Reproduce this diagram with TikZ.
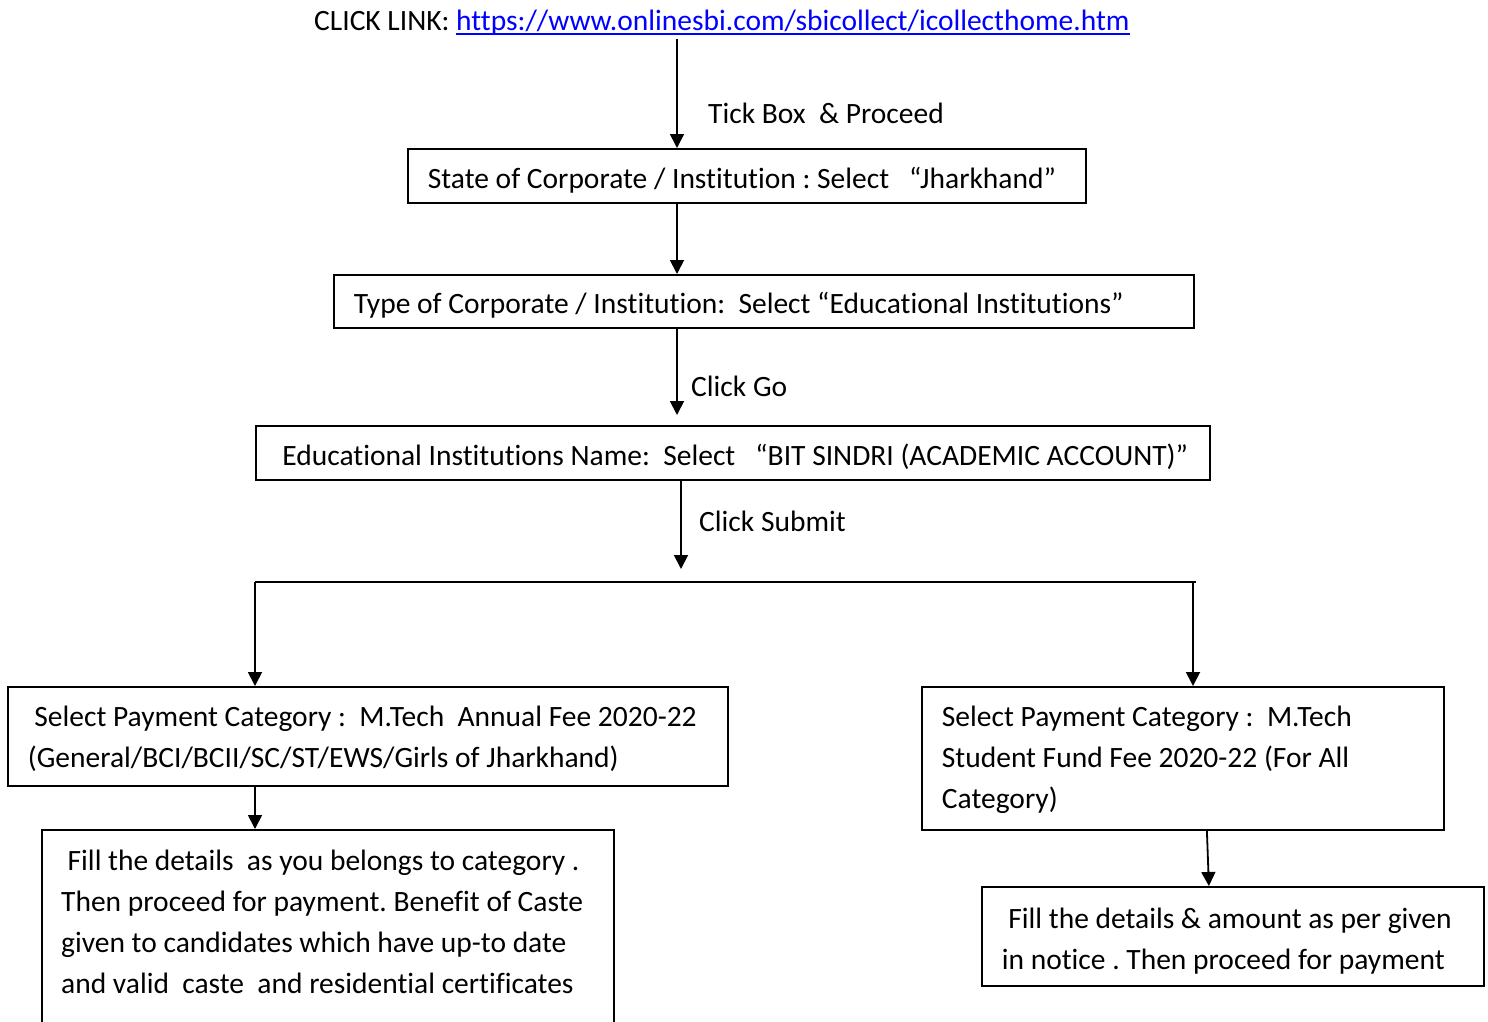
\documentclass[tikz,border=0pt]{standalone}
\usepackage{fontspec}
\setmainfont{Carlito}[Ligatures={NoCommon,TeX}]
\usetikzlibrary{arrows.meta,calc}
\definecolor{linkblue}{RGB}{0,0,255}
\newcommand\natsp[1]{\spaceskip=\fontdimen2\font\xspaceskip=\fontdimen2\font\relax\rule{0pt}{#1}}
\begin{document}
\begin{tikzpicture}[x=1pt,y=-1pt,
  every node/.style={font=\fontsize{29.5}{41}\selectfont},
  box/.style={draw, line width=1.8pt, anchor=north west, inner xsep=20pt, inner ysep=0pt, align=left},
  arr/.style={line width=1.8pt, -{Triangle[width=14pt,length=14pt]}},
  ln/.style={line width=1.8pt},
  lbl/.style={anchor=west, inner sep=0pt}]
\useasboundingbox[fill=white] (0,0) rectangle (1488,1021);

% title
\node[anchor=base west, inner sep=0pt] (cl) at (314,30) {CLICK LINK:};
\node[anchor=base west, inner sep=0pt, text=linkblue] (link) at (456,30) {https://www.onlinesbi.com/sbicollect/icollecthome.htm};
\draw[linkblue, line width=1.5pt] ($(link.base west)+(0,4)$) -- ($(link.base east)+(0,4)$);

% boxes
\node[box, text width=638pt, minimum height=54pt] (b1) at (407,148) {\natsp{29pt}State of Corporate / Institution : Select\ \ \ “Jharkhand”};
\node[box, text width=820pt, minimum height=53pt] (b2) at (333,274) {\natsp{29pt}Type of Corporate / Institution:\ \ Select “Educational Institutions”};
\node[box, text width=914pt, minimum height=54pt] (b3) at (255,425) {\natsp{29pt}\hspace{6.5pt}Educational Institutions Name:\ \ Select\ \ \ “BIT SINDRI (ACADEMIC ACCOUNT)”};
\node[box, text width=680pt, minimum height=99pt] (b4) at (7,686) {\natsp{26pt}\hspace{6.5pt}Select Payment Category :\ \ M.Tech\ \ Annual Fee 2020-22\\(General/BCI/BCII/SC/ST/EWS/Girls of Jharkhand)};
\node[draw, line width=1.8pt, anchor=north west, minimum width=572pt, minimum height=210pt, inner sep=0pt] (b5) at (41,829) {};
\node[anchor=north west, align=left, text width=540pt, inner sep=0pt] (t5) at (61,850) {\natsp{0pt}\hspace{6.5pt}Fill the details\ \ as you belongs to category .\\Then proceed for payment. Benefit of Caste\\given to candidates which have up-to date\\and valid\ \ caste\ \ and residential certificates};
\node[box, text width=482pt, minimum height=143pt] (b6) at (921,686) {\natsp{24pt}Select Payment Category :\ \ M.Tech\\Student Fund Fee 2020-22 (For All\\Category)};
\node[box, text width=462pt, minimum height=99pt] (b7) at (981,886) {\natsp{29pt}\hspace{6.5pt}Fill the details \& amount as per given\\in notice . Then proceed for payment};

% labels
\node[lbl] (l1) at (708,113) {Tick Box\ \ \& Proceed};
\node[lbl] (l2) at (691,386) {Click Go};
\node[lbl] (l3) at (699,521) {Click Submit};

% coordinates
\coordinate (xa) at (677,0);
\coordinate (xb) at (681,0);
\coordinate (jn) at (681,569);
\coordinate (hl) at (255,582);
\coordinate (hr) at (1196,582);
\coordinate (hr2) at (1193,582);

% connectors
\draw[arr] ($(link.south -| xa)+(0,4)$) -- (b1.north -| xa);
\draw[arr] (b1.south -| xa) -- (b2.north -| xa);
\draw[arr] (b2.south -| xa) -- ($(b3.north -| xa)+(0,-10)$);
\draw[arr] (b3.south -| xb) -- (jn);
\draw[ln] (hl) -- (hr);
\draw[arr] (hl) -- (b4.north -| hl);
\draw[arr] (hr2) -- (b6.north -| hr2);
\draw[arr] (b4.south -| hl) -- (b5.north -| hl);
\draw[arr] ($(b6.south)+(24,0)$) -- ($(b7.north)+(-24,0)$);
\end{tikzpicture}
\end{document}
